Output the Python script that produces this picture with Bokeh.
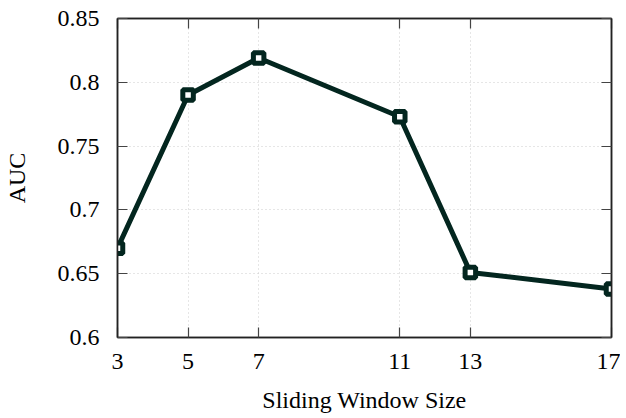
from bokeh.plotting import figure
from bokeh.models import LinearAxis, FixedTicker, Range1d
from bokeh.embed import file_html
from bokeh.resources import INLINE

window_sizes = [3, 5, 7, 11, 13, 17]
auc_values = [0.670, 0.790, 0.819, 0.773, 0.651, 0.638]
x_ticks = [3, 5, 7, 11, 13, 17]
y_ticks = [0.6, 0.65, 0.7, 0.75, 0.8, 0.85]

FONT = "Liberation Serif"
COLOR = "#03261f"

p = figure(width=620, height=415, output_backend="svg", toolbar_location=None,
           x_range=Range1d(3, 17), y_range=Range1d(0.6, 0.85),
           min_border_left=116, min_border_right=9, min_border_top=18, min_border_bottom=78)
p.outline_line_color = "#222222"
p.outline_line_width = 1.5

p.line(window_sizes, auc_values, line_color=COLOR, line_width=5)
p.scatter(window_sizes, auc_values, marker="square", size=10.5, fill_color="white",
          line_color=COLOR, line_width=5)

for ax in (p.xaxis[0], p.yaxis[0]):
    ax.major_tick_in = 10
    ax.major_tick_out = 0
    ax.minor_tick_line_color = None
    ax.axis_line_color = "#222222"
    ax.axis_line_width = 1.5
    ax.major_tick_line_color = "#444444"
    ax.major_tick_line_width = 1.2
    ax.major_label_text_font = FONT
    ax.major_label_text_font_size = "24px"
    ax.major_label_text_color = "black"
    ax.axis_label_text_font = FONT
    ax.axis_label_text_font_size = "24px"
    ax.axis_label_text_font_style = "normal"
    ax.axis_label_text_color = "black"

p.xaxis[0].ticker = FixedTicker(ticks=x_ticks)
p.yaxis[0].ticker = FixedTicker(ticks=y_ticks)
p.xaxis[0].major_label_overrides = {t: str(t) for t in x_ticks}
p.yaxis[0].major_label_overrides = {0.6: "0.6", 0.65: "0.65", 0.7: "0.7", 0.75: "0.75", 0.8: "0.8", 0.85: "0.85"}
p.xaxis[0].axis_label = "Sliding Window Size"
p.yaxis[0].axis_label = "AUC"
p.xaxis[0].major_label_standoff = 16
p.yaxis[0].major_label_standoff = 18
p.xaxis[0].axis_label_standoff = 15
p.yaxis[0].axis_label_standoff = 25

# mirrored axes (ticks only)
top = LinearAxis(ticker=FixedTicker(ticks=x_ticks), major_label_text_font_size="1px",
                 major_label_text_color=None,
                 major_tick_in=10, major_tick_out=0, minor_tick_line_color=None,
                 axis_line_color="#222222", axis_line_width=1.5, major_tick_line_color="#444444",
                 major_tick_line_width=1.2, major_label_standoff=0)
right = LinearAxis(ticker=FixedTicker(ticks=y_ticks), major_label_text_font_size="1px",
                   major_label_text_color=None,
                   major_tick_in=10, major_tick_out=0, minor_tick_line_color=None,
                   axis_line_color="#222222", axis_line_width=1.5, major_tick_line_color="#444444",
                   major_tick_line_width=1.2, major_label_standoff=0)
p.add_layout(top, "above")
p.add_layout(right, "right")

p.xgrid.ticker = FixedTicker(ticks=x_ticks)
p.ygrid.ticker = FixedTicker(ticks=y_ticks)
for g in (p.xgrid[0], p.ygrid[0]):
    g.grid_line_color = "#cccccc"
    g.grid_line_dash = "1 3"
    g.grid_line_width = 1

open("out.html", "w").write(file_html(p, INLINE))
